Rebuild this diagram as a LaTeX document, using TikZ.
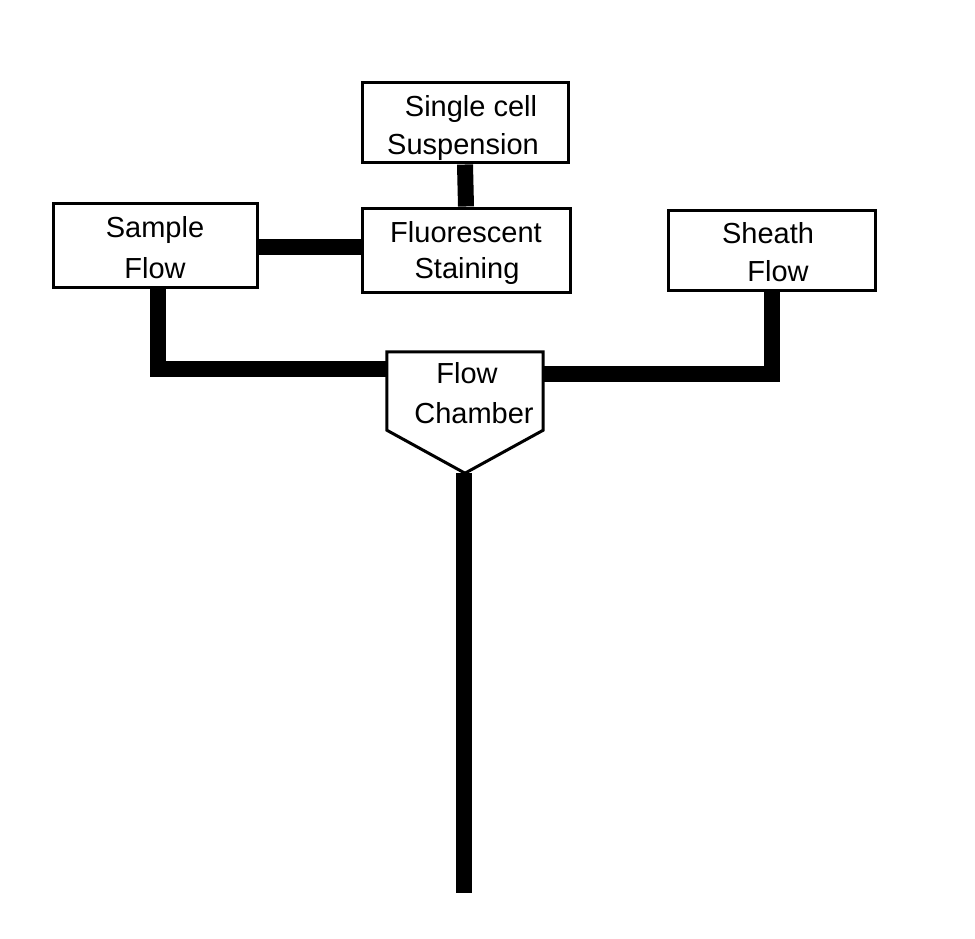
\documentclass[tikz,border=0pt]{standalone}
\usepackage{fontspec}
\setmainfont{Liberation Sans}
\usetikzlibrary{calc}
\begin{document}
\begin{tikzpicture}[x=1pt,y=-1pt,
  stage/.style={draw=black, line width=3pt, rectangle, inner sep=0pt},
  label/.style={font=\fontsize{29}{37}\selectfont, inner sep=0pt, anchor=base},
  pipe/.style={draw=black, line width=16pt, line cap=butt, line join=miter}]
  \useasboundingbox (0,0) rectangle (975,939);

  % process boxes
  \node[stage, minimum width=206pt, minimum height=80pt] (single) at (465,123) {};
  \node[label] (singleA) at (471,117) {Single cell};
  \node[label] (singleB) at (463,155) {Suspension};

  \node[stage, minimum width=208pt, minimum height=84pt] (stain) at (466,250) {};
  \node[label] (stainA) at (466,242) {Fluorescent};
  \node[label] (stainB) at (467,278) {Staining};

  \node[stage, minimum width=204pt, minimum height=84pt] (sample) at (155,245) {};
  \node[label] (sampleA) at (155,237) {Sample};
  \node[label] (sampleB) at (155,278) {Flow};

  \node[stage, minimum width=207pt, minimum height=80pt] (sheath) at (771.5,250) {};
  \node[label] (sheathA) at (768,243) {Sheath};
  \node[label] (sheathB) at (778,281) {Flow};

  % flow chamber: rectangle with a pointed outlet
  \node[minimum width=156pt, minimum height=78pt, inner sep=0pt] (chamber) at (465,391) {};
  \coordinate (tip) at ($(chamber.south)+(0,43)$);
  \draw[line width=3pt, line join=miter] (chamber.south west) -- (chamber.north west)
    -- (chamber.north east) -- (chamber.south east) -- (tip) -- cycle;
  \node[label] (chamberA) at (467,383) {Flow};
  \node[label] (chamberB) at (474,423) {Chamber};

  % connecting pipes
  \draw[pipe] (single.south) -- (stain.north);
  \draw[pipe] ([yshift=-2pt]sample.east) -- ([yshift=3pt]stain.west);
  \draw[pipe] ([xshift=2.5pt]sample.south) |- ([yshift=22pt]chamber.west);
  \draw[pipe] (sheath.south) |- ([yshift=17pt]chamber.east);
  \coordinate (outlet) at ($(tip)+(-1,420)$);
  \draw[pipe] ([xshift=-1pt]tip) -- (outlet);
\end{tikzpicture}
\end{document}
